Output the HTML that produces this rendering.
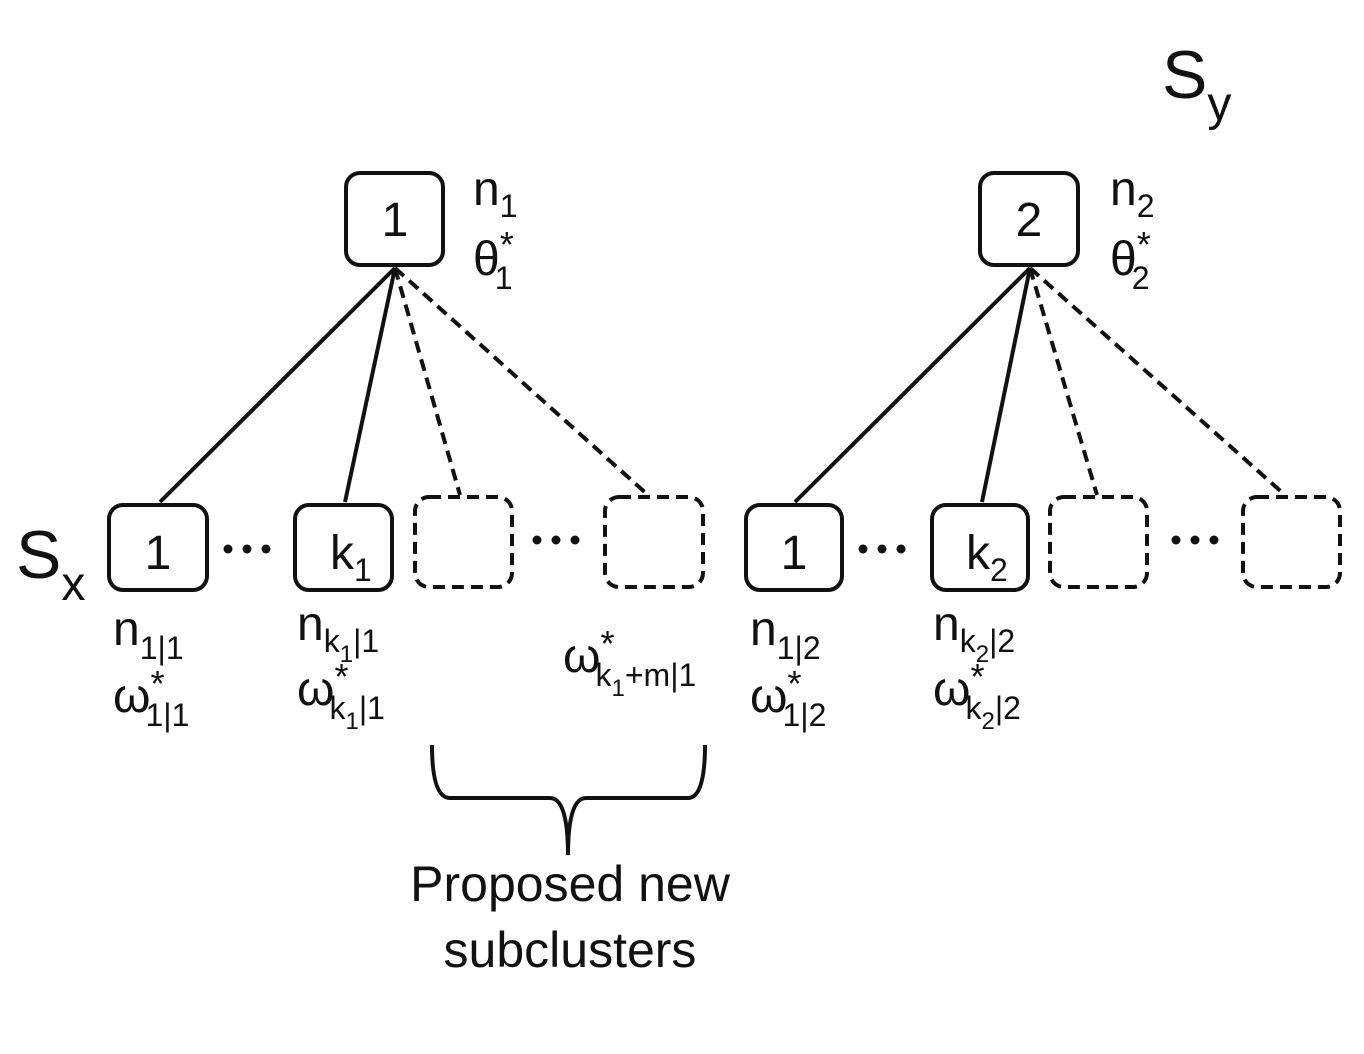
<!DOCTYPE html>
<html><head><meta charset="utf-8"><style>
html,body{margin:0;padding:0;background:#fff;}
svg{display:block}
text{font-family:"Liberation Sans","DejaVu Sans",sans-serif;fill:#111}
</style></head><body>
<svg width="1364" height="1054" viewBox="0 0 1364 1054" xmlns="http://www.w3.org/2000/svg">
<g fill="none" stroke="#111" stroke-width="4">
<rect x="346" y="173" width="97" height="92" rx="14"/>
<rect x="980" y="173" width="98" height="92" rx="14"/>
<rect x="109" y="505" width="98" height="85" rx="14"/>
<rect x="295" y="505" width="97" height="85" rx="14"/>
<rect x="746" y="505" width="96" height="85" rx="14"/>
<rect x="932" y="505" width="96" height="85" rx="14"/>
<g stroke-dasharray="12,7">
<rect x="415" y="497" width="97" height="90" rx="14"/>
<rect x="605" y="497" width="98" height="90" rx="14"/>
<rect x="1050" y="497" width="97" height="90" rx="14"/>
<rect x="1243" y="497" width="97" height="90" rx="14"/>
</g>
<line x1="395" y1="268" x2="160" y2="502"/>
<line x1="395" y1="268" x2="345" y2="502"/>
<line x1="1030" y1="268" x2="795" y2="502"/>
<line x1="1030" y1="268" x2="982" y2="502"/>
<g stroke-dasharray="12,7">
<line x1="395" y1="268" x2="460" y2="495"/>
<line x1="395" y1="268" x2="648" y2="495"/>
<line x1="1030" y1="268" x2="1097" y2="495"/>
<line x1="1030" y1="268" x2="1285" y2="495"/>
</g>
<path d="M432 745 Q432 798 450 798 L550 798 Q568 798 568 855 Q568 798 586 798 L688 798 Q705 798 705 745"/>
</g>
<g fill="#111">
<circle cx="228" cy="549" r="4.5"/><circle cx="247" cy="549" r="4.5"/><circle cx="266" cy="549" r="4.5"/>
<circle cx="537" cy="540" r="4.5"/><circle cx="556" cy="540" r="4.5"/><circle cx="575" cy="540" r="4.5"/>
<circle cx="863" cy="549" r="4.5"/><circle cx="882" cy="549" r="4.5"/><circle cx="901" cy="549" r="4.5"/>
<circle cx="1176" cy="540" r="4.5"/><circle cx="1195" cy="540" r="4.5"/><circle cx="1214" cy="540" r="4.5"/>
</g>
<g font-size="48">
<text x="395" y="236" text-anchor="middle">1</text>
<text x="1029" y="236" text-anchor="middle">2</text>
<text x="158" y="569" text-anchor="middle">1</text>
<text x="794" y="569" text-anchor="middle">1</text>
<text x="330" y="569">k<tspan font-size="32" dy="12">1</tspan></text>
<text x="966" y="569">k<tspan font-size="32" dy="12">2</tspan></text>
</g>
<text x="1162" y="98" font-size="68">S<tspan font-size="48" dy="22">y</tspan></text>
<text x="16" y="578" font-size="68">S<tspan font-size="48" dy="22">x</tspan></text>
<g font-size="48">
<text x="473" y="205">n<tspan font-size="32" dy="12">1</tspan></text>
<text x="473" y="275">θ<tspan font-size="36" dy="-18">*</tspan><tspan font-size="32" dy="32" dx="-19">1</tspan></text>
<text x="1110" y="205">n<tspan font-size="32" dy="12">2</tspan></text>
<text x="1110" y="275">θ<tspan font-size="36" dy="-18">*</tspan><tspan font-size="32" dy="32" dx="-19">2</tspan></text>

<text x="113" y="645">n<tspan font-size="32" dy="14">1|1</tspan></text>
<text x="113" y="712">ω<tspan font-size="36" dy="-16">*</tspan><tspan font-size="32" dy="30" dx="-19">1|1</tspan></text>
<text x="297" y="640">n<tspan font-size="32" dy="12">k</tspan><tspan font-size="24" dy="10">1</tspan><tspan font-size="32" dy="-10">|1</tspan></text>
<text x="297" y="705">ω<tspan font-size="36" dy="-16">*</tspan><tspan font-size="32" dy="30" dx="-19">k</tspan><tspan font-size="24" dy="10">1</tspan><tspan font-size="32" dy="-10">|1</tspan></text>
<text x="563" y="672">ω<tspan font-size="36" dy="-16">*</tspan><tspan font-size="32" dy="30" dx="-19">k</tspan><tspan font-size="24" dy="10">1</tspan><tspan font-size="32" dy="-10">+m|1</tspan></text>

<text x="750" y="645">n<tspan font-size="32" dy="14">1|2</tspan></text>
<text x="750" y="712">ω<tspan font-size="36" dy="-16">*</tspan><tspan font-size="32" dy="30" dx="-19">1|2</tspan></text>
<text x="933" y="640">n<tspan font-size="32" dy="12">k</tspan><tspan font-size="24" dy="10">2</tspan><tspan font-size="32" dy="-10">|2</tspan></text>
<text x="933" y="705">ω<tspan font-size="36" dy="-16">*</tspan><tspan font-size="32" dy="30" dx="-19">k</tspan><tspan font-size="24" dy="10">2</tspan><tspan font-size="32" dy="-10">|2</tspan></text>
</g>
<g font-size="50">
<text x="570" y="901" text-anchor="middle">Proposed new</text>
<text x="570" y="967" text-anchor="middle">subclusters</text>
</g>
</svg>
</body></html>
